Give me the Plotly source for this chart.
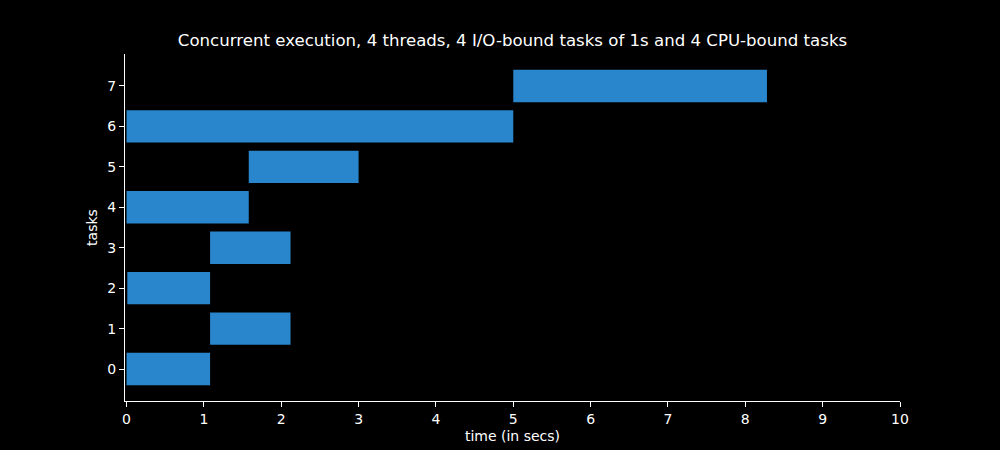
import plotly.graph_objects as go

tasks = [0, 1, 2, 3, 4, 5, 6, 7]
starts = [0.0, 1.08, 0.01, 1.08, 0.0, 1.58, 0.0, 5.0]
ends = [1.08, 2.12, 1.08, 2.12, 1.58, 3.0, 5.0, 8.28]
durations = [e - s for s, e in zip(starts, ends)]

x_ticks = list(range(0, 11))
y_ticks = list(range(0, 8))

font = "DejaVu Sans"

fig = go.Figure()
fig.add_trace(go.Bar(
    y=tasks, x=durations, base=starts, orientation="h", width=0.8,
    marker=dict(color="#2986cc", line=dict(width=0)),
    hoverinfo="skip",
))

fig.update_layout(
    width=1000, height=450,
    paper_bgcolor="black", plot_bgcolor="black",
    margin=dict(l=125, r=100, t=54, b=49),
    showlegend=False,
    title=dict(
        text="Concurrent execution, 4 threads, 4 I/O-bound tasks of 1s and 4 CPU-bound tasks",
        x=0.5125, xanchor="center", y=0.91, yanchor="middle",
        font=dict(family=font, size=16.6, color="white"),
    ),
    font=dict(family=font, color="white"),
)

fig.update_xaxes(
    range=[-0.02, 10], tickvals=x_ticks, ticktext=[str(v) for v in x_ticks],
    showgrid=False, zeroline=False, showline=True, linecolor="white", linewidth=1,
    ticks="outside", ticklen=5, tickcolor="white", tickfont=dict(size=14, color="white"),
    title=dict(text="time (in secs)", font=dict(size=14, color="white"), standoff=5),
    automargin=False,
)
fig.update_yaxes(
    range=[-0.79, 7.79], tickvals=y_ticks, ticktext=[str(v) for v in y_ticks],
    showgrid=False, zeroline=False, showline=True, linecolor="white", linewidth=1,
    ticks="outside", ticklen=5, tickcolor="white", tickfont=dict(size=14, color="white"),
    title=dict(text="tasks", font=dict(size=14, color="white"), standoff=6),
    automargin=False,
)

fig.write_html(
    "out.html",
    config={"displayModeBar": False},
    post_script="document.body.style.margin='0';document.body.style.background='black';",
)
